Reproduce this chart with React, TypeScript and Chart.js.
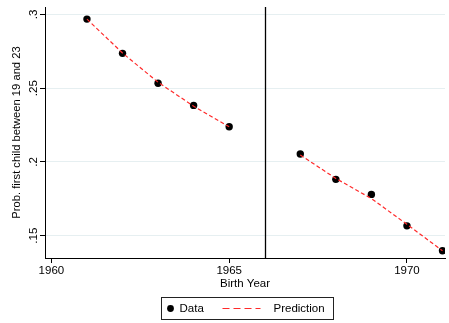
import React, { useEffect, useRef } from 'react';
import { Chart, registerables } from 'chart.js';

Chart.register(...registerables);

const years = [1961, 1962, 1963, 1964, 1965, 1966, 1967, 1968, 1969, 1970, 1971];
const dataValues = [0.2968, 0.2736, 0.2533, 0.2383, 0.2238, null, 0.2054, 0.1882, 0.178, 0.1567, 0.1398];
const predictionValues = [0.2968, 0.2738, 0.254, 0.2378, 0.2238, null, 0.2047, 0.1888, 0.1752, 0.1577, 0.1398];
const xTicks = [1960, 1965, 1970];
const yTicks = [0.15, 0.2, 0.25, 0.3];
const dividerYear = 1966;
const xRange = [1959.82, 1971.07];
const yRange = [0.1349, 0.305];
const legendLabels = ['Data', 'Prediction'];
const xTitle = 'Birth Year';
const yTitle = 'Prob. first child between 19 and 23';

const FONT = '"Liberation Sans", Arial, Helvetica, sans-serif';

const dividerPlugin = {
  id: 'divider',
  afterDatasetsDraw(chart: any) {
    const { ctx, chartArea, scales } = chart;
    const x = Math.round(scales.x.getPixelForValue(dividerYear)) + 0.5;
    ctx.save();
    ctx.strokeStyle = '#000';
    ctx.lineWidth = 1.3;
    ctx.beginPath();
    ctx.moveTo(x, chartArea.top);
    ctx.lineTo(x, chartArea.bottom);
    ctx.stroke();
    ctx.restore();
  },
};

const legendPlugin = {
  id: 'boxLegend',
  afterDraw(chart: any) {
    const { ctx, chartArea } = chart;
    const cx = (chartArea.left + chartArea.right) / 2 + 2;
    const w = 172;
    const h = 22;
    const left = Math.round(cx - w / 2) + 0.5;
    const top = 297.5;
    ctx.save();
    ctx.strokeStyle = '#222';
    ctx.lineWidth = 1;
    ctx.strokeRect(left, top, w, h);
    const cy = top + h / 2;
    ctx.fillStyle = '#000';
    ctx.beginPath();
    ctx.arc(left + 9, cy, 3.4, 0, Math.PI * 2);
    ctx.fill();
    ctx.font = '11.5px ' + FONT;
    ctx.textBaseline = 'middle';
    ctx.textAlign = 'left';
    ctx.fillText(legendLabels[0], left + 18, cy + 0.5);
    ctx.strokeStyle = '#ff2a2a';
    ctx.lineWidth = 1.2;
    ctx.setLineDash([7, 4]);
    ctx.beginPath();
    ctx.moveTo(left + 61, cy);
    ctx.lineTo(left + 99, cy);
    ctx.stroke();
    ctx.setLineDash([]);
    ctx.fillStyle = '#000';
    ctx.fillText(legendLabels[1], left + 112, cy + 0.5);
    ctx.restore();
  },
};

export default function App() {
  const canvasRef = useRef<HTMLCanvasElement | null>(null);

  useEffect(() => {
    document.body.style.margin = '0';
    const canvas = canvasRef.current;
    if (!canvas) return;
    const chart = new Chart(canvas, {
      type: 'scatter',
      data: {
        datasets: [
          {
            label: legendLabels[0],
            data: years.map((x, i) => ({ x, y: dataValues[i] })),
            showLine: false,
            pointRadius: 3.7,
            pointBackgroundColor: '#000',
            pointBorderColor: '#000',
            pointBorderWidth: 0,
            order: 1,
          },
          {
            label: legendLabels[1],
            data: years.map((x, i) => ({ x, y: predictionValues[i] })),
            showLine: true,
            spanGaps: false,
            borderColor: '#ff2a2a',
            borderWidth: 1.2,
            borderDash: [4, 2.5],
            pointRadius: 0,
            fill: false,
            order: 0,
          },
        ],
      },
      options: {
        animation: false,
        responsive: false,
        maintainAspectRatio: false,
        layout: { padding: { left: 0, right: 0, top: 7, bottom: 32 } },
        plugins: {
          legend: { display: false },
          tooltip: { enabled: false },
        },
        scales: {
          x: {
            type: 'linear',
            min: xRange[0],
            max: xRange[1],
            afterBuildTicks: (scale: any) => {
              scale.ticks = xTicks.map((v) => ({ value: v }));
            },
            afterFit: (scale: any) => {
              scale.height = 33;
            },
            ticks: {
              color: '#000',
              font: { family: FONT, size: 11.5 },
              padding: 1,
              maxRotation: 0,
              autoSkip: false,
              callback: (v: any) => String(v),
            },
            grid: {
              drawOnChartArea: false,
              drawTicks: true,
              tickLength: 5,
              tickColor: '#000',
            },
            border: { display: true, color: '#000', width: 1 },
            title: {
              display: true,
              text: xTitle,
              color: '#000',
              font: { family: FONT, size: 11.5 },
              padding: { top: 0, bottom: 0 },
            },
          },
          y: {
            type: 'linear',
            min: yRange[0],
            max: yRange[1],
            afterBuildTicks: (scale: any) => {
              scale.ticks = yTicks.map((v) => ({ value: v }));
            },
            afterFit: (scale: any) => {
              scale.width = 45;
            },
            ticks: {
              color: '#000',
              font: { family: FONT, size: 11.5 },
              padding: -2,
              minRotation: 90,
              maxRotation: 90,
              crossAlign: 'center',
              autoSkip: false,
              callback: (v: any) => String(Math.round(v * 100) / 100).replace(/^0/, ''),
            },
            grid: {
              color: '#e6eff1',
              lineWidth: 1,
              drawTicks: true,
              tickLength: 5,
              tickColor: '#000',
            },
            border: { display: true, color: '#000', width: 1 },
            title: {
              display: true,
              text: yTitle,
              color: '#000',
              font: { family: FONT, size: 11.2 },
              padding: { top: 10, bottom: 0 },
            },
          },
        },
      },
      plugins: [dividerPlugin, legendPlugin],
    } as any);
    return () => chart.destroy();
  }, []);

  return (
    <div style={{ width: 449, height: 323, background: '#fff' }}>
      <canvas ref={canvasRef} width={449} height={323} style={{ display: 'block' }} />
    </div>
  );
}
